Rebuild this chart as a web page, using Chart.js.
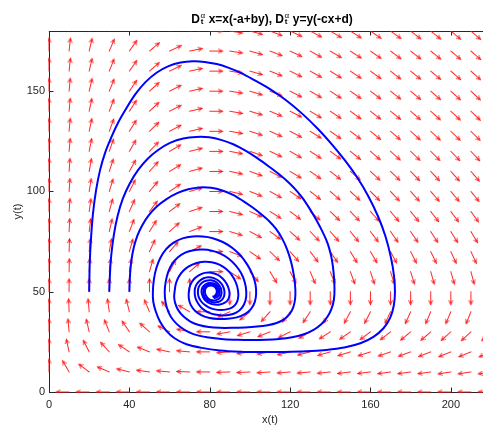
<!DOCTYPE html>
<html>
<head>
<meta charset="utf-8">
<script src="https://cdn.jsdelivr.net/npm/chart.js@4.4.1/dist/chart.umd.min.js"></script>
<style>
  html, body { margin: 0; padding: 0; background: #ffffff; overflow: hidden; }
  #wrap { width: 500px; height: 430px; }
</style>
</head>
<body>
<div id="wrap"><canvas id="c" width="500" height="430"></canvas></div>
<script>
// ---------- data ----------
const gridX = [0,10,20,30,40,50,60,70,80,90,100,110,120,130,140,150,160,170,180,190,200,210,220];
const gridY = [0,10,20,30,40,50,60,70,80,90,100,110,120,130,140,150,160,170,180];

// direction of each red arrow (degrees, counter-clockwise from +x), one row per gridY value
const arrowAngles = [
  [null,180,180,180,180,180,180,180,180,180,180,180,180,180,180,180,180,180,180,180,180,180,180],
  [90,120,143,157,166,172,175,178,180,182,183,184,185,185,186,187,187,188,188,188,189,189,189],
  [90,102,117,132,146,158,168,175,180,184,188,190,193,194,196,197,198,199,200,201,202,202,203],
  [90,95,103,112,124,138,153,168,180,190,197,202,207,210,213,215,217,218,220,221,222,223,224],
  [90,92,95,98,104,113,127,150,180,204,219,228,233,237,240,242,243,245,246,247,247,248,249],
  [90,90,90,90,90,90,90,90,null,270,270,270,270,270,270,270,270,270,270,270,270,270,270],
  [90,89,87,84,81,74,63,41,0,-34,-50,-59,-63,-67,-69,-70,-72,-73,-73,-74,-74,-75,-75],
  [90,88,85,80,74,65,49,27,0,-21,-35,-44,-49,-53,-56,-59,-60,-62,-63,-64,-65,-65,-66],
  [90,87,83,77,69,58,42,21,0,-17,-28,-36,-42,-46,-49,-51,-53,-55,-56,-57,-58,-59,-59],
  [90,86,82,75,66,53,37,18,0,-14,-24,-32,-37,-41,-44,-46,-48,-50,-51,-52,-53,-54,-55],
  [90,86,81,73,63,50,34,16,0,-13,-22,-29,-34,-38,-41,-43,-45,-47,-48,-49,-50,-51,-52],
  [90,86,80,72,61,48,31,15,0,-12,-20,-27,-31,-35,-38,-41,-43,-44,-46,-47,-48,-49,-49],
  [90,85,79,71,60,46,30,14,0,-11,-19,-25,-30,-33,-36,-39,-41,-42,-44,-45,-46,-47,-48],
  [90,85,78,70,58,44,28,13,0,-10,-18,-24,-28,-32,-35,-37,-39,-41,-42,-43,-44,-45,-46],
  [90,85,78,69,57,43,27,13,0,-10,-17,-23,-27,-31,-34,-36,-38,-39,-41,-42,-43,-44,-45],
  [90,85,77,68,56,42,27,12,0,-9,-17,-22,-27,-30,-33,-35,-37,-38,-40,-41,-42,-43,-44],
  [90,84,77,68,55,41,26,12,0,-9,-16,-22,-26,-29,-32,-34,-36,-38,-39,-40,-41,-42,-43],
  [90,84,77,67,55,40,25,11,0,-9,-16,-21,-25,-29,-31,-33,-35,-37,-38,-39,-40,-41,-42],
  [90,84,76,67,54,40,25,11,0,-9,-15,-21,-25,-28,-31,-33,-35,-36,-38,-39,-40,-41,-41]
];

// blue trajectories (x, y) starting at (20,50), (30,50), (40,50)
const traj1 = [
  [20,50],[20.3,65],[21,78],[22,90],[23.5,101],[25.5,111],[28,119.5],[31,127],[34.5,134.5],[38.5,141.5],
  [43,148.5],[48,154.5],[53.5,159.2],[59.5,162.5],[65.5,164.3],[71.6,164.9],[77.5,164.6],[83.5,163.5],[89.5,161.6],
  [95.5,159.1],[102,155.6],[110,151],[118,145.5],[126,138.8],[134,131],[141,123.2],[147.5,115.2],[153.5,106.8],
  [159,97.5],[163.8,87.5],[167.5,77.5],[170.2,67],[171.7,58],[172.2,50],[171.6,43],[169.8,37],[166.5,31.8],
  [161.5,27.5],[155,24.3],[147,22.2],[138,21],[128,20.3],[117,20],[106,19.9],[95,20.1],[85,20.7],[76,22],
  [68.4,23.8],[62.5,26.8],[58.4,30.5],[55.3,35],[53.2,40],[51.9,45],[51.7,50],
  [52.2,56],[53.4,61.7],[55.4,66.8],[58.3,71.2],[62,74.5],[66.5,76.6],[71.5,77.5],[76.5,77.5],[81.5,76.7],
  [86.5,74.8],[91.3,71.8],[95.4,68],[98.7,63.5],[101.3,58.5],[102.8,53.5],[103.1,49],[102.4,44.8],[100.5,41.3],
  [97.5,38.8],[93.5,37.2],[89,36.5],[84.5,36.4],[80,36.9],[76,38.2],[72.8,40.4],[70.6,43.3],[69.6,46.6],[69.6,50],
  [70.3,53.3],[72,56.1],[74.5,58.2],[77.5,59.4],[80.7,59.5],[83.8,58.5],[86.4,56.6],[88.4,54],[89.6,51],[89.8,48.2],
  [89,45.9],[87.3,44.4],[85,43.6],[82.5,43.6],[80,44.2],[78,45.5],[76.6,47.5],[75.9,50],
  [76.3,52],[77.6,53.5],[79.5,54.3],[81.6,54.2],[83.4,53.3],[84.6,51.7],[85,49.8],[84.6,48.2],[83.5,47.2],[82,46.8]
];
const traj2 = [
  [30,50],[30.4,60],[31,68.3],[32.3,78.5],[34.2,88],[36.8,96.5],[40.2,104],[44.3,110.6],[49,116.2],[54.5,120.8],
  [60.5,124.3],[66.8,126.4],[73.3,127.2],[79.8,127],[86,125.6],[92,123.4],[98,120.2],[104,116.4],[109.8,112.2],
  [115,108.2],[119.8,104],[123.3,100.3],[126.6,96.2],[129.8,91.3],[133,85.9],[135.8,80.6],[138,75.8],[139.5,71.5],
  [140.8,66],[141.7,59],[142.1,51.5],[141.8,46],[140.6,41.5],[138.5,37.4],[135.5,33.8],[131.5,30.9],[126.5,28.7],
  [121,27.3],[114.5,26.4],[108,26],[101,25.9],[94,26],[87,26.3],[80.5,27],[74.5,28.1],[69.5,29.9],[65.2,32.5],
  [61.8,35.9],[59.4,40],[58,44.8],[57.6,50],
  [58.1,55],[59.3,59.8],[61.3,63.9],[64.2,67.2],[67.8,69.5],[72,70.7],[76.5,71],[81,70.5],[85.3,69],[89.3,66.6],
  [92.8,63.3],[95.6,59.3],[97.4,54.8],[98.2,50],[97.8,45.6],[96.1,42.1],[93.4,39.7],[90,38.5],[86.3,38.2],[82.6,38.6],
  [79.2,39.7],[76.4,41.5],[74.3,44],[72.9,46.9],[72.5,50],
  [73,52.8],[74.5,55],[76.7,56.6],[79.3,57.2],[82,56.8],[84.4,55.5],[86.2,53.5],[87.2,51],[87.3,48.5],[86.5,46.5],
  [85,45.2],[83,44.7],[81,44.9],[79.4,45.6],[78,46.6],[77.1,48.2],[76.8,50],
  [77.2,51.9],[78.5,53.2],[80.4,53.7],[82.3,53.2],[83.7,52],[84.2,50.4],[83.9,48.8],[82.9,47.7],[81.6,47.2]
];
const traj3 = [
  [40,50],[40.3,58],[41,65.5],[42.2,72],[44,78],[46.5,83.3],[49.8,88.3],[53.8,92.6],[58.5,96.2],[63.8,99.2],
  [69.3,101.1],[75,102],[80.7,101.8],[86.3,100.5],[91.6,98.3],[96.5,95.3],[101.2,92.1],[105.5,88.8],[109.5,85.3],
  [113,81.3],[116,76.6],[118.6,70.9],[120.6,64.5],[121.9,58],[122.6,51.5],[122.5,46.5],[121.6,42.3],[119.8,38.9],
  [117,36.2],[113.3,34.4],[108.8,33.3],[103.5,32.6],[97.5,32.2],[91,32],[85,32],[79.5,32.4],[74.6,33.4],[70.4,35.1],
  [67,37.6],[64.4,40.7],[62.8,44.3],[62.3,47.4],[62.5,50],
  [63.1,53.8],[64.5,57.3],[66.7,60.3],[69.6,62.6],[73.1,64.2],[77,64.9],[81,64.7],[84.8,63.5],[88.2,61.3],[91,58.3],
  [93,54.6],[94.1,50.5],[94.1,46.7],[93,43.9],[91,42.1],[88.4,41.2],[85.5,40.9],[82.5,41.2],[79.7,42.1],[77.3,43.6],
  [75.5,45.5],[74.4,47.7],[74.1,50],
  [74.6,52.5],[76,54.4],[78.1,55.5],[80.6,55.7],[83,54.9],[84.8,53.1],[85.8,50.7],[85.7,48.3],[84.7,46.6],[83.1,45.8],
  [81.3,45.7],[79.6,46.3],[78.4,47.6],[77.7,49.3],
  [77.7,51.1],[78.5,52.4],[79.9,53],[81.5,52.9],[82.8,52],[83.5,50.6],[83.3,49],[82.4,47.9],[81.4,47.5]
];

const xTickValues = [0,40,80,120,160,200];
const yTickValues = [0,50,100,150];
const xLabel = 'x(t)';
const yLabel = 'y(t)';
const titleMain1 = ' x=x(-a+by), ';
const titleMain2 = ' y=y(-cx+d)';

// ---------- build datasets ----------
const arrowPts = [];
const arrowRot = [];
gridY.forEach((y, r) => {
  gridX.forEach((x, c) => {
    const a = arrowAngles[r][c];
    if (a === null) return;
    arrowPts.push({x: x, y: y});
    arrowRot.push(-a);
  });
});
const toPts = arr => arr.map(p => ({x: p[0], y: p[1]}));

// arrow glyph: tail at the image centre, pointing to +x
const ARROW_LEN = 13, HEAD_LEN = 4.5, HEAD_ANG = 24 * Math.PI / 180;
const S = 33, C0 = S / 2;
const arrowImg = document.createElement('canvas');
arrowImg.width = S; arrowImg.height = S;
(function () {
  const g = arrowImg.getContext('2d');
  g.strokeStyle = '#ff1010';
  g.lineWidth = 0.9;
  g.lineCap = 'round';
  g.lineJoin = 'round';
  const tx = C0 + ARROW_LEN;
  g.beginPath();
  g.moveTo(C0, C0); g.lineTo(tx, C0);
  g.moveTo(tx - HEAD_LEN * Math.cos(HEAD_ANG), C0 - HEAD_LEN * Math.sin(HEAD_ANG));
  g.lineTo(tx, C0);
  g.lineTo(tx - HEAD_LEN * Math.cos(HEAD_ANG), C0 + HEAD_LEN * Math.sin(HEAD_ANG));
  g.stroke();
})();

const AXIS_COLOR = '#262626';
const FONT_FAMILY = '"Liberation Sans", Arial, Helvetica, sans-serif';

// inward tick marks + top box edge
const boxPlugin = {
  id: 'boxTicks',
  beforeDatasetsDraw(chart) {
    const {ctx, chartArea: a, scales} = chart;
    const tl = 4.5;
    ctx.save();
    ctx.strokeStyle = AXIS_COLOR;
    ctx.lineWidth = 1;
    ctx.beginPath();
    const top = Math.round(a.top) + 0.5;
    ctx.moveTo(a.left, top); ctx.lineTo(a.right, top);
    scales.x.ticks.forEach(t => {
      const px = Math.round(scales.x.getPixelForValue(t.value)) + 0.5;
      ctx.moveTo(px, a.bottom); ctx.lineTo(px, a.bottom - tl);
      ctx.moveTo(px, a.top); ctx.lineTo(px, a.top + tl);
    });
    scales.y.ticks.forEach(t => {
      const py = Math.round(scales.y.getPixelForValue(t.value)) + 0.5;
      ctx.moveTo(a.left, py); ctx.lineTo(a.left + tl, py);
    });
    ctx.stroke();
    ctx.restore();
  }
};

// title with TeX-like sub/superscripts
const titlePlugin = {
  id: 'texTitle',
  afterDraw(chart) {
    const ctx = chart.ctx;
    const mainFont = 'bold 12px ' + FONT_FAMILY;
    const supFont = '8px ' + FONT_FAMILY;
    const subFont = 'bold 8px ' + FONT_FAMILY;
    const segs = [
      {t: 'D'}, {sup: 'α', sub: 't'}, {t: titleMain1},
      {t: 'D'}, {sup: 'α', sub: 't'}, {t: titleMain2}
    ];
    ctx.save();
    const widths = segs.map(s => {
      if (s.t !== undefined) { ctx.font = mainFont; return ctx.measureText(s.t).width; }
      ctx.font = supFont; const w1 = ctx.measureText(s.sup).width;
      ctx.font = subFont; const w2 = ctx.measureText(s.sub).width;
      return Math.max(w1, w2) + 0.8;
    });
    const total = widths.reduce((p, q) => p + q, 0);
    let x = 272 - total / 2;
    const base = 23.3;
    ctx.fillStyle = '#000000';
    ctx.textAlign = 'left';
    ctx.textBaseline = 'alphabetic';
    segs.forEach((s, i) => {
      if (s.t !== undefined) {
        ctx.font = mainFont; ctx.fillText(s.t, x, base);
      } else {
        ctx.font = supFont; ctx.fillText(s.sup, x + 0.6, base - 5.6);
        ctx.font = subFont; ctx.fillText(s.sub, x + 0.8, base + 0.9);
      }
      x += widths[i];
    });
    ctx.restore();
  }
};

const trajStyle = {
  showLine: true,
  borderColor: '#0000ff',
  backgroundColor: '#0000ff',
  borderWidth: 2,
  pointRadius: 0,
  pointHoverRadius: 0,
  tension: 0.3,
  fill: false,
  order: 0
};

new Chart(document.getElementById('c'), {
  type: 'scatter',
  data: {
    datasets: [
      Object.assign({label: 'x0=20', data: toPts(traj1)}, trajStyle),
      Object.assign({label: 'x0=30', data: toPts(traj2)}, trajStyle),
      Object.assign({label: 'x0=40', data: toPts(traj3)}, trajStyle),
      {
        label: 'field',
        data: arrowPts,
        showLine: false,
        pointStyle: arrowImg,
        pointRotation: arrowRot,
        pointRadius: 1,
        pointHoverRadius: 1,
        order: 1,
        clip: {left: 1, top: 0, right: 0, bottom: 1}
      }
    ]
  },
  options: {
    responsive: false,
    animation: false,
    devicePixelRatio: 1,
    events: [],
    layout: {padding: {left: 0, right: 9, top: 31, bottom: 0}},
    plugins: {legend: {display: false}, tooltip: {enabled: false}, title: {display: false}},
    scales: {
      x: {
        type: 'linear', position: 'bottom', min: 0, max: 220,
        afterBuildTicks: s => { s.ticks = xTickValues.map(v => ({value: v})); },
        afterFit: s => { s.height = 38; },
        ticks: {color: AXIS_COLOR, font: {size: 11, family: FONT_FAMILY}, padding: 6, maxRotation: 0, autoSkip: false},
        grid: {display: false, drawTicks: false},
        border: {display: true, color: AXIS_COLOR, width: 1},
        title: {display: true, text: xLabel, color: AXIS_COLOR, font: {size: 11, family: FONT_FAMILY}, padding: {top: 0, bottom: 3.4}}
      },
      y: {
        type: 'linear', position: 'left', min: 0, max: 180,
        afterBuildTicks: s => { s.ticks = yTickValues.map(v => ({value: v})); },
        afterFit: s => { s.width = 49; },
        ticks: {color: AXIS_COLOR, font: {size: 11, family: FONT_FAMILY}, padding: 4, autoSkip: false},
        grid: {display: false, drawTicks: false},
        border: {display: true, color: AXIS_COLOR, width: 1},
        title: {display: true, text: yLabel, color: AXIS_COLOR, font: {size: 11, family: FONT_FAMILY}, padding: {top: 11.7, bottom: 0}}
      }
    }
  },
  plugins: [boxPlugin, titlePlugin]
});
</script>
</body>
</html>
